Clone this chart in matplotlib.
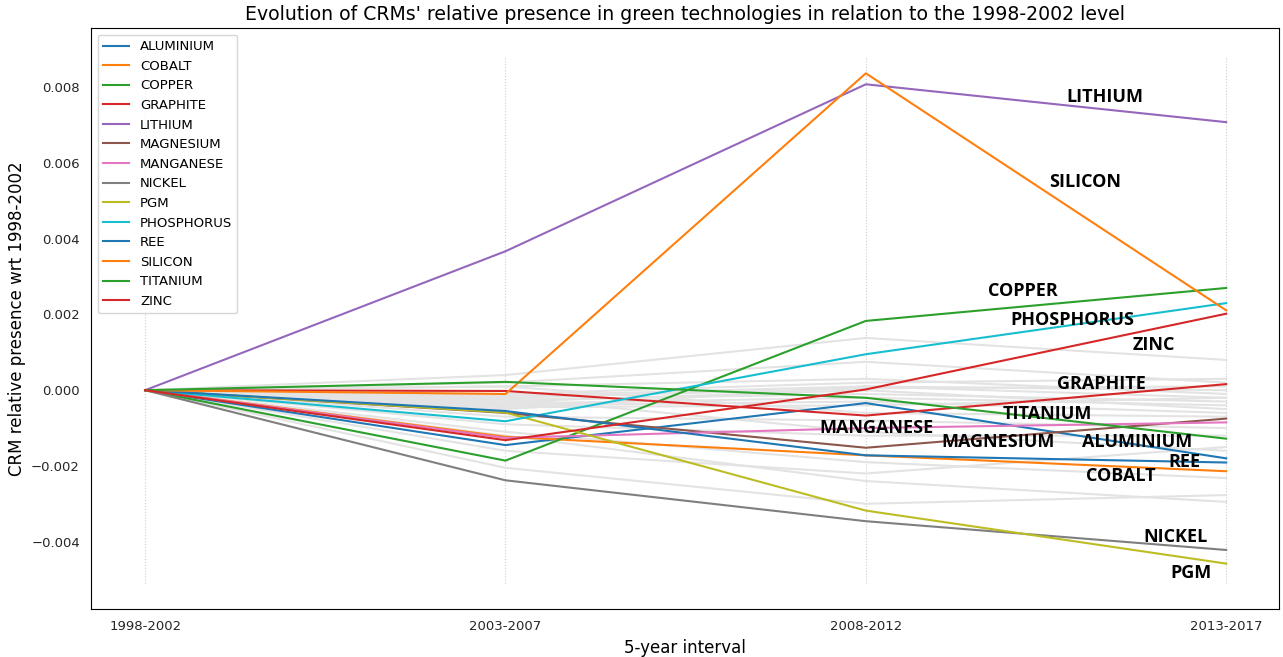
import numpy as np
import matplotlib.pyplot as plt

# 5-year intervals on the x axis
intervals = ['1998-2002', '2003-2007', '2008-2012', '2013-2017']

# relative presence of each CRM w.r.t. the 1998-2002 level
crm_names = ['ALUMINIUM', 'COBALT', 'COPPER', 'GRAPHITE', 'LITHIUM', 'MAGNESIUM',
             'MANGANESE', 'NICKEL', 'PGM', 'PHOSPHORUS', 'REE', 'SILICON',
             'TITANIUM', 'ZINC']
aluminium = [0, -0.00145, -0.00034, -0.00180]
cobalt = [0, -0.00123, -0.00172, -0.00214]
copper = [0, -0.00186, 0.00183, 0.00270]
graphite = [0, -0.00002, -0.00067, 0.00016]
lithium = [0, 0.00367, 0.00808, 0.00708]
magnesium = [0, -0.00060, -0.00152, -0.00075]
manganese = [0, -0.00126, -0.00100, -0.00085]
nickel = [0, -0.00238, -0.00346, -0.00422]
pgm = [0, -0.00059, -0.00318, -0.00458]
phosphorus = [0, -0.00082, 0.00095, 0.00230]
ree = [0, -0.00055, -0.00172, -0.00191]
silicon = [0, -0.00010, 0.00837, 0.00211]
titanium = [0, 0.00022, -0.00020, -0.00128]
zinc = [0, -0.00132, 0.00002, 0.00202]

crm_values = [aluminium, cobalt, copper, graphite, lithium, magnesium, manganese,
              nickel, pgm, phosphorus, ree, silicon, titanium, zinc]

# other (non critical) materials, drawn in the background
others = [
    [0, 0.00040, 0.00138, 0.00080],
    [0, 0.00020, 0.00075, 0.00020],
    [0, 0.00010, 0.00030, -0.00010],
    [0, -0.00010, 0.00020, 0.00030],
    [0, -0.00015, 0.00010, -0.00020],
    [0, -0.00020, 0.00005, 0.00010],
    [0, -0.00025, -0.00010, -0.00030],
    [0, -0.00030, 0.00000, -0.00050],
    [0, -0.00035, -0.00020, -0.00040],
    [0, -0.00040, -0.00030, -0.00060],
    [0, -0.00045, -0.00040, -0.00020],
    [0, -0.00050, 0.00010, 0.00000],
    [0, -0.00070, -0.00080, -0.00100],
    [0, -0.00090, -0.00120, -0.00120],
    [0, -0.00110, -0.00190, -0.00232],
    [0, -0.00160, -0.00220, -0.00150],
    [0, -0.00205, -0.00300, -0.00277],
    [0, -0.00120, -0.00240, -0.00295],
    [0, 0.00010, -0.00060, -0.00070],
    [0, -0.00020, -0.00110, -0.00160],
]

# label positions (interval index, value)
label_x = [2.60, 2.61, 2.34, 2.53, 2.556, 2.21, 1.87, 2.77, 2.845, 2.40, 2.84, 2.51, 2.38, 2.74]
label_y = [-0.00137, -0.00227, 0.00261, 0.00016, 0.00774, -0.00137, -0.00100,
           -0.00388, -0.00483, 0.00185, -0.00190, 0.00549, -0.00063, 0.00119]

x = np.arange(len(intervals))
colors = plt.rcParams['axes.prop_cycle'].by_key()['color']

fig, ax = plt.subplots(figsize=(12.83, 6.57), dpi=100)
fig.subplots_adjust(left=0.071, right=0.997, bottom=0.073, top=0.957)

ax.vlines(x, -0.0051, 0.00884, colors='#cccccc', linestyles=':', linewidth=0.8)

for vals in others:
    ax.plot(x, vals, color='#e3e3e3', linewidth=1.5)

for i, (name, vals) in enumerate(zip(crm_names, crm_values)):
    ax.plot(x, vals, color=colors[i % len(colors)], linewidth=1.5, label=name)
    ax.text(label_x[i], label_y[i], name, fontsize=13, fontweight='bold',
            family='Open Sans', ha='left', va='center', color='black')

ax.set_xlim(-0.15, 3.147)
ax.set_ylim(-0.00578, 0.00956)
ax.set_xticks(x)
ax.set_xticklabels(intervals)
ax.tick_params(length=0, labelsize=9.5, pad=8, colors='#262626')
ax.set_xlabel('5-year interval', fontsize=12)
ax.set_ylabel('CRM relative presence wrt 1998-2002', fontsize=12)
ax.set_title("Evolution of CRMs' relative presence in green technologies in relation to the 1998-2002 level",
             fontsize=13.6)
ax.legend(loc='upper left', fontsize=9.5)

plt.savefig('out.png', dpi=100)
